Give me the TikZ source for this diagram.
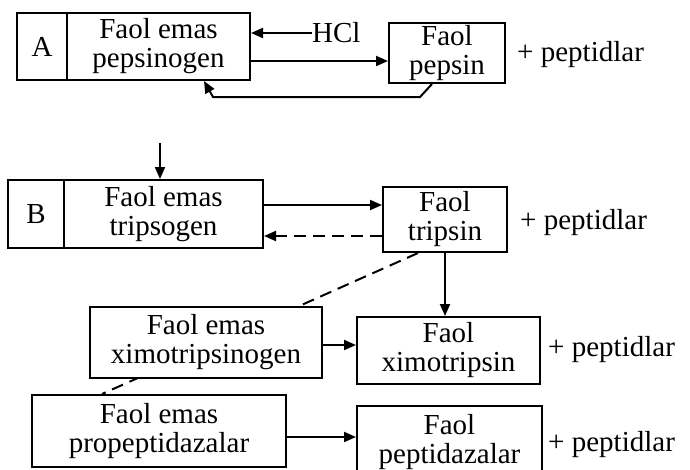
\documentclass[tikz,border=0pt]{standalone}
\usepackage{fontspec}
\setmainfont{Liberation Serif}
\usetikzlibrary{arrows.meta,backgrounds}
\begin{document}
\begin{tikzpicture}[x=1pt,y=-1pt,
  box/.style={draw,line width=2pt,fill=white,align=center,inner sep=0pt,
    font=\fontsize{29}{29}\selectfont},
  txt/.style={inner sep=0pt,font=\fontsize{29}{29}\selectfont,anchor=west},
  arr/.style={line width=2pt,-{Triangle[length=12pt,width=10pt]}},
  ln/.style={line width=2pt},
  dsh/.style={line width=2pt,dash pattern=on 12pt off 7pt}]
\useasboundingbox (0,0) rectangle (690,469);
% A
\node[box,minimum width=50pt,minimum height=67pt] (alab) at (42,46.5) {A};
\node[box,minimum width=183pt,minimum height=67pt] (pgen) at (158.5,46.5) {Faol emas\\pepsinogen};
\node[box,minimum width=116pt,minimum height=60pt] (pep) at (447,53) {Faol\\pepsin};
\node[txt] (hcl) at (312,33) {HCl};
\node[txt] (p1) at (517,55) {+ peptidlar};
\draw[arr] (hcl.west) -- (hcl.west -| pgen.east);
\draw[arr] (pgen.east |- 0,61) -- (pep.west |- 0,61);
\coordinate (f1) at (420,97);
\coordinate (f2) at (213,97);
\draw[arr] (pep.south -| 432,0) -- (f1) -- (f2) -- (pgen.south -| 204,0);
% B
\coordinate (top) at (160,143);
\node[box,minimum width=56pt,minimum height=68pt] (blab) at (36,214) {B};
\node[box,minimum width=199pt,minimum height=68pt] (tgen) at (163.5,214) {Faol emas\\tripsogen};
\node[box,minimum width=124pt,minimum height=65pt] (trp) at (445,219.5) {Faol\\tripsin};
\node[txt] (p2) at (520,223) {+ peptidlar};
\draw[arr] (top) -- (top |- tgen.north);
\draw[arr] (tgen.east |- 0,205) -- (trp.west |- 0,205);
\draw[arr,dsh] (trp.west |- 0,236) -- (tgen.east |- 0,236);
\node[box,minimum width=232pt,minimum height=71pt] (xgen) at (206,342.5) {Faol emas\\ximotripsinogen};
\node[box,minimum width=183pt,minimum height=67pt] (xim) at (448.5,350.5) {Faol\\ximotripsin};
\node[txt] (p3) at (548,350) {+ peptidlar};
\node[box,minimum width=254pt,minimum height=72pt] (pro) at (159,431) {Faol emas\\propeptidazalar};
\node[box,minimum width=185pt,minimum height=72pt,anchor=north] (ptd) at (449.5,405) {Faol\\peptidazalar};
\node[txt] (p4) at (548,445) {+ peptidlar};
\draw[arr] (trp.south -| 445,0) -- (xim.north -| 445,0);
\draw[arr] (xgen.east |- 0,345) -- (xim.west |- 0,345);
\draw[arr] (pro.east |- 0,437) -- (ptd.west |- 0,437);
\begin{scope}[on background layer]
\draw[dsh] (trp.south -| 418,0) -- (pro.north -| 102,0);
\end{scope}
\end{tikzpicture}
\end{document}
